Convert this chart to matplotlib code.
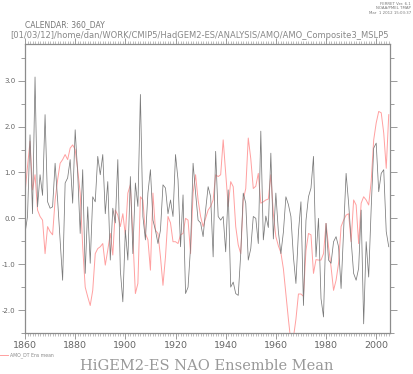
import numpy as np
import matplotlib
matplotlib.use("Agg")
import matplotlib.pyplot as plt
from matplotlib.ticker import MultipleLocator

# years of the annual series
years = np.arange(1860, 2006)

# NAO ensemble mean (grey line)
nao = [
    -0.33, 0.04, 1.82, 0.10, 3.08, 0.25, 0.95, 0.50, 2.26, 0.36,
    0.22, 0.25, 1.20, 0.40, -0.47, -1.35, 0.77, 0.88, 1.28, 0.33,
    1.93, 0.99, -0.33, 1.06, -1.20, 0.25, -0.98, 0.47, 0.36, 1.35,
    0.95, 1.39, 0.10, 0.80, -0.91, 0.22, -0.10, 1.28, -1.13, -1.82,
    -0.26, -0.91, 0.91, -0.77, 0.77, 0.26, 2.70, 0.04, -0.47, 0.55,
    1.06, -0.04, -0.26, -0.55, -0.26, 0.73, 0.66, 0.10, 0.40, 0.04,
    1.39, 0.84, -0.62, 0.51, -1.64, -1.50, -0.62, 1.20, 0.55, -0.04,
    -0.10, -0.40, 0.18, 0.69, 0.47, -0.84, 1.46, 0.04, -0.04, 0.04,
    -0.73, 0.62, -1.50, -1.39, -1.64, -1.68, -0.77, 0.55, 0.33, -0.91,
    -0.66, 0.04, 0.00, -0.55, 1.90, -0.47, 0.05, -0.20, 1.42, -0.45,
    0.55, -0.29, -0.77, -0.30, 0.47, 0.30, 0.04, -0.84, -1.42, -0.30,
    0.36, -1.90, -0.05, 0.47, 0.66, 1.35, -0.84, 0.00, -1.75, -2.15,
    -0.11, -0.91, -0.98, -0.51, -0.40, -0.62, -1.53, -0.29, 0.98, 0.33,
    -0.47, -1.20, -1.35, -1.09, 0.18, -2.30, -0.51, -1.28, 0.22, 1.53,
    1.64, 0.58, 0.98, 1.06, -0.29, -0.62,
]

# AMO_DT ensemble mean (red line)
amo = [
    0.55, 1.13, 1.68, 0.62, 0.95, 0.18, 0.04, -0.04, -0.77, -0.18,
    -0.29, -0.36, 0.40, 0.84, 1.20, 1.28, 1.39, 1.28, 1.53, 1.60,
    1.50, 1.06, 0.55, -0.62, -1.50, -1.71, -1.90, -1.57, -0.77, -0.66,
    -0.62, -0.55, -1.02, -0.69, -0.33, -0.80, 0.18, 0.07, -0.18, 0.10,
    -0.36, 0.55, 0.73, -0.40, -1.64, -1.42, 0.47, 0.40, -0.33, -0.47,
    -1.13, 0.55, -0.26, -0.33, -0.84, -1.46, -0.84, 0.04, -0.10, -0.51,
    -0.51, -0.55, -0.36, -0.33, 0.00, -0.04, -0.77, 0.55, 0.95, 0.40,
    0.04, -0.18, 0.00, 0.18, 0.26, 0.40, 0.95, 0.91, 0.95, 1.71,
    0.98, 0.26, 0.80, 0.69, -0.18, -0.58, -0.77, 0.40, 0.65, 1.75,
    1.30, 0.65, 0.70, 0.98, 0.33, 0.36, 0.40, 0.42, 0.95, 0.10,
    -0.40, -0.60, -0.75, -1.10, -1.65, -2.20, -2.70, -2.60, -2.20, -1.65,
    -1.65, -1.70, -0.70, -0.33, -0.36, -1.20, -0.90, -0.91, -0.91, -0.77,
    -0.11, -0.62, -1.06, -1.57, -1.35, -0.98, -0.18, -0.04, 0.07, 0.10,
    -0.51, 0.40, 0.29, -0.55, 0.33, 0.47, 0.40, 0.29, 0.80, 1.71,
    2.08, 2.33, 2.30, 1.86, 1.09, 2.26,
]

xticks = [1860, 1880, 1900, 1920, 1940, 1960, 1980, 2000]
yticks = [-2.0, -1.0, 0.0, 1.0, 2.0, 3.0]

grey = '#8c8c8c'
red = '#ffa0a0'

fig = plt.figure(figsize=(4.14, 3.74), dpi=100)
ax = fig.add_axes([25 / 414, 1 - 333 / 374, 365 / 414, 289 / 374])

ax.plot(years, amo, color=red, linewidth=0.7)
ax.plot(years, nao, color='#7a7a7a', linewidth=0.55)

ax.set_xlim(1860, 2005.5)
ax.set_ylim(-2.5, 3.8)

for s in ax.spines.values():
    s.set_color(grey)
    s.set_linewidth(0.9)

ax.set_xticks(xticks)
ax.set_xticklabels([str(t) for t in xticks])
ax.xaxis.set_minor_locator(MultipleLocator(1))
ax.set_yticks(yticks)
ax.set_yticklabels(['%.1f' % t for t in yticks])
ax.yaxis.set_minor_locator(MultipleLocator(0.5))

ax.tick_params(axis='x', which='major', direction='out', length=4, width=0.6,
               color=grey, labelsize=6.8, labelcolor='#666666', pad=2,
               top=True)
ax.tick_params(axis='x', which='minor', direction='out', length=2, width=0.4,
               color=grey, top=True)
ax.tick_params(axis='y', which='major', direction='out', length=5, width=0.6,
               color=grey, labelsize=5, labelcolor='#666666', pad=2,
               right=True)
ax.tick_params(axis='y', which='minor', direction='out', length=3, width=0.6,
               color=grey, right=True)

# header texts
fig.text(25 / 414, 1 - 25 / 374, 'CALENDAR: 360_DAY', fontsize=5.5,
         color='#777777', va='center', ha='left')
fig.text(10 / 414, 1 - 36 / 374,
         '[01/03/12]/home/dan/WORK/CMIP5/HadGEM2-ES/ANALYSIS/AMO/AMO_Composite3_MSLP5',
         fontsize=6.0, color='#888888', va='center', ha='left')
fig.text(411 / 414, 1 - 2 / 374,
         'FERRET Ver. 6.1\nNOAA/PMEL TMAP\nMar  1 2012 15:03:37',
         fontsize=2.8, color='#777777', va='top', ha='right', linespacing=1.1)

# legend line and label
fig.add_artist(plt.Line2D([0 / 414, 8 / 414], [1 - 355 / 374, 1 - 355 / 374],
                          color=red, linewidth=0.7))
fig.text(10 / 414, 1 - 355 / 374, 'AMO_DT Ens mean', fontsize=3.3,
         color='#888888', va='center', ha='left')

# title at bottom
fig.text(207 / 414, 1 - 366 / 374, 'HiGEM2-ES NAO Ensemble Mean',
         family='DejaVu Serif', fontsize=10.5, color='#999999',
         va='center', ha='center')

fig.savefig('out.png', dpi=100)
